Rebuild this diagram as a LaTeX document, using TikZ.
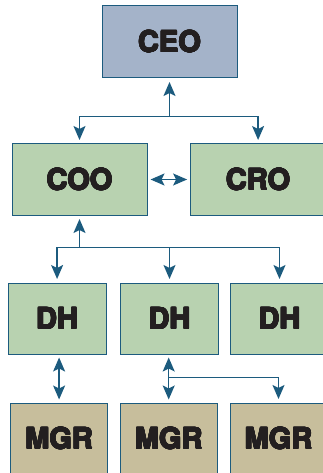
\documentclass[tikz,border=0pt]{standalone}
\usepackage{fontspec}
\setmainfont{TeX Gyre Heros}
\usepackage[copies]{contour}
\contourlength{0.55pt}
\usetikzlibrary{arrows.meta}
\usetikzlibrary{positioning}
\definecolor{linkblue}{HTML}{1C5B7E}
\definecolor{ceofill}{HTML}{A4B3C9}
\definecolor{headfill}{HTML}{B8D2B0}
\definecolor{mgrfill}{HTML}{C7BE9C}
\definecolor{inkblack}{HTML}{231F20}
\newcommand{\heavy}[1]{\contour{inkblack}{#1}}

\begin{document}
\begin{tikzpicture}[x=1pt,y=-1pt,
	box/.style={draw=linkblue, line width=1pt, inner sep=0pt, text=inkblack, font=\fontsize{29}{29}\selectfont\bfseries},
	ceobox/.style={box, fill=ceofill, minimum width=135pt, minimum height=72pt},
	execbox/.style={box, fill=headfill, minimum width=135pt, minimum height=71pt},
	dhbox/.style={box, fill=headfill, minimum width=98pt, minimum height=71pt},
	mgrbox/.style={box, fill=mgrfill, minimum width=97pt, minimum height=71pt},
	link/.style={draw=linkblue, line width=1.5pt},
	tip/.style={-{Stealth[length=14pt,width=12pt,inset=3pt]}, shorten >=3.5pt},
	tips/.style={{Stealth[length=14pt,width=12pt,inset=3pt]}-{Stealth[length=14pt,width=12pt,inset=3pt]}, shorten >=3pt, shorten <=3pt}]
	\useasboundingbox (0,0) rectangle (323,473);
	\node[ceobox] (ceo) at (169.5,42) {\heavy{CEO}};
	\node[execbox] (coo) at (79.5,179.5) {\heavy{COO}};
	\node[execbox] (cro) [right=42.6pt of coo] {\heavy{CRO}};
	
	\node[dhbox] (dh2) at (169.5,318.5) {\heavy{DH}};
	\node[dhbox] (dh1) [left=13.4pt of dh2] {\heavy{DH}};
	\node[dhbox] (dh3) [right=11pt of dh2] {\heavy{DH}};
	
	\node[mgrbox] (mgr1) [below=48pt of dh1, xshift=2pt] {\heavy{MGR}};
	\node[mgrbox] (mgr2) [below=48pt of dh2, xshift=-0.8pt] {\heavy{MGR}};
	\node[mgrbox] (mgr3) [below=48pt of dh3, xshift=-1pt] {\heavy{MGR}};
	
	\coordinate (ceosplit) at (169.5,116.7);
	\coordinate (coosplit) at (79.5,247.7);
	\coordinate (dhsplit) at (168.7,377.7);
	
	\draw[link,tip] (ceosplit) -- (ceo);
	\draw[link,tip] (ceosplit) -| (coo);
	\draw[link,tip] (ceosplit) -| (cro);
	\draw[link,tips] (coo) -- (cro);
	
	\draw[link,tip] (coosplit) -- (coo);
	\foreach \dh in {dh1,dh2,dh3}
		\draw[link,tip] (coosplit) -| (\dh);
	
	\draw[link,tips] (mgr1 |- dh1.south) -- (mgr1);
	\draw[link,tips] (mgr2 |- dh2.south) -- (mgr2);
	\draw[link,tip] (dhsplit) -| (mgr3);
\end{tikzpicture}
\end{document}
